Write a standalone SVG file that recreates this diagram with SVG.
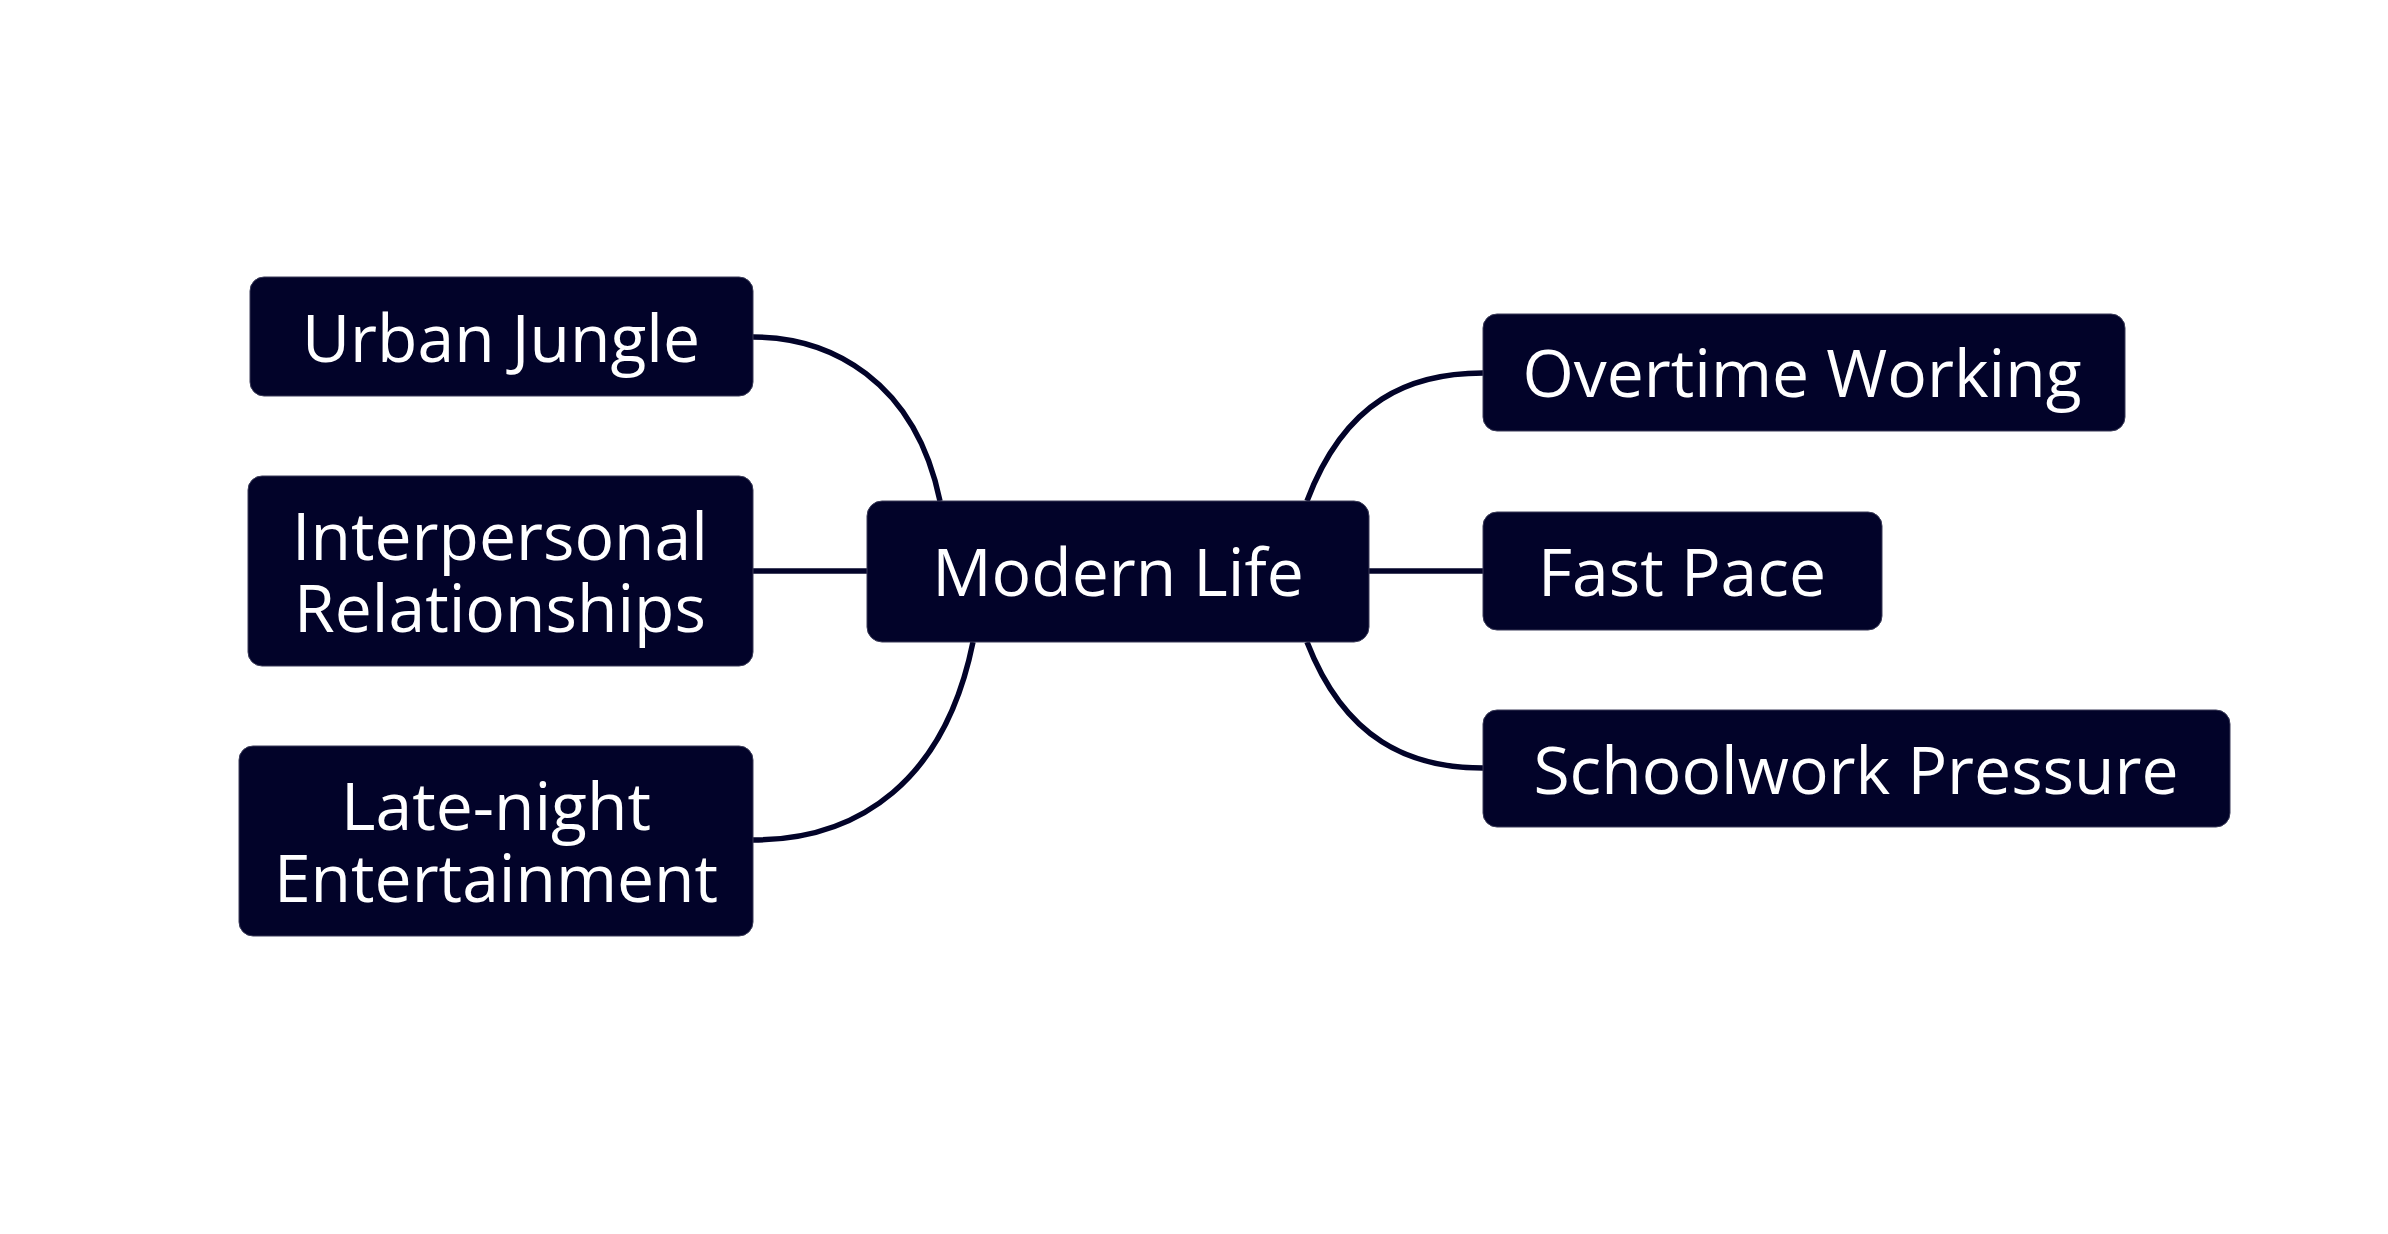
<svg xmlns="http://www.w3.org/2000/svg" width="2388" height="1234" viewBox="0 0 2388 1234">
  <style>
    .box { fill: #020329; stroke: #3a3b58; stroke-width: 1; }
    .label { fill: #ffffff; font-family: "Open Sans", "Liberation Sans", sans-serif; font-size: 66px; text-anchor: middle; }
    .edge { fill: none; stroke: #020329; stroke-width: 5.5; }
  </style>
  <rect width="2388" height="1234" fill="#ffffff"/>

  <!-- connectors -->
  <g id="connectors">
    <path class="edge" d="M753,337 C830,337 915,380 940,501"/>
    <path class="edge" d="M753,571 L867,571"/>
    <path class="edge" d="M753,840 C860,840 945,780 973,642"/>
    <path class="edge" d="M1483,373 C1410,373 1345,400 1307,501"/>
    <path class="edge" d="M1369,571 L1483,571"/>
    <path class="edge" d="M1483,768 C1410,768 1345,740 1307,642"/>
  </g>

  <!-- central topic -->
  <g id="node-modern-life">
    <rect class="box" x="867" y="501" width="502" height="141" rx="15"/>
    <text class="label" x="1118" y="596">Modern Life</text>
  </g>

  <!-- left branches -->
  <g id="node-urban-jungle">
    <rect class="box" x="250" y="277" width="503" height="119" rx="14"/>
    <text class="label" x="501" y="362">Urban Jungle</text>
  </g>
  <g id="node-interpersonal">
    <rect class="box" x="248" y="476" width="505" height="190" rx="14"/>
    <text class="label" x="500" y="560">Interpersonal</text>
    <text class="label" x="500" y="632">Relationships</text>
  </g>
  <g id="node-late-night">
    <rect class="box" x="239" y="746" width="514" height="190" rx="14"/>
    <text class="label" x="496" y="830">Late-night</text>
    <text class="label" x="496" y="902">Entertainment</text>
  </g>

  <!-- right branches -->
  <g id="node-overtime">
    <rect class="box" x="1483" y="314" width="642" height="117" rx="14"/>
    <text class="label" x="1802" y="397">Overtime Working</text>
  </g>
  <g id="node-fast-pace">
    <rect class="box" x="1483" y="512" width="399" height="118" rx="14"/>
    <text class="label" x="1682" y="596">Fast Pace</text>
  </g>
  <g id="node-schoolwork">
    <rect class="box" x="1483" y="710" width="747" height="117" rx="14"/>
    <text class="label" x="1856" y="794">Schoolwork Pressure</text>
  </g>
</svg>
